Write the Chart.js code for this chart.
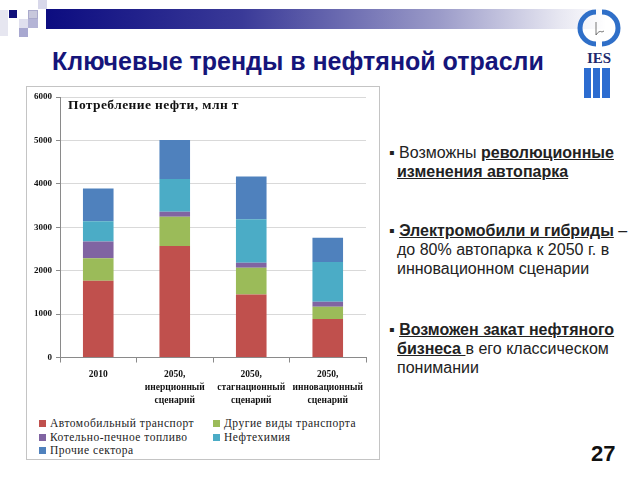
<!DOCTYPE html>
<html><head><meta charset="utf-8">
<script src="https://cdn.jsdelivr.net/npm/chart.js@4/dist/chart.umd.min.js"></script>
<style>
html,body{margin:0;padding:0;background:#fff;width:640px;height:480px;overflow:hidden;position:relative;font-family:"Liberation Sans",Arial,sans-serif;}
.abs{position:absolute;}
#topbar{left:46px;top:9px;width:560px;height:20px;background:linear-gradient(to right,#0c0c80 0%,#3a3a98 35%,#9a9ac8 70%,#e8e8f2 92%,#ffffff 100%);}
.sq{position:absolute;}
#title{left:52px;top:47px;font-weight:bold;font-size:25px;color:#15157a;white-space:nowrap;}
#box{left:26px;top:86px;width:352px;height:372px;border:1px solid #c4c4c4;}
#chartwrap{position:absolute;left:0;top:0;width:352px;height:326px;}
#legend{position:absolute;left:0;top:330px;width:352px;font-family:"Liberation Serif","DejaVu Serif","Times New Roman",serif;font-size:11.5px;letter-spacing:0.5px;color:#222;}
.li{position:absolute;white-space:nowrap;}
.li span.b{display:inline-block;width:7px;height:7px;margin-right:4px;vertical-align:0px;}
#text{left:389px;top:0;width:250px;font-size:16px;color:#222;}
.p{position:absolute;white-space:nowrap;line-height:19px;}
.p b{text-decoration:underline;}
#num{left:591px;top:441px;font-weight:bold;font-size:22px;color:#111;}
</style></head>
<body>
<div class="abs" id="topbar"></div>
<div class="sq" style="left:0;top:10px;width:8px;height:26px;background:#e6e6f0;"></div>
<div class="sq" style="left:9px;top:10px;width:8px;height:8px;background:#10107a;"></div>
<div class="sq" style="left:38px;top:0;width:9px;height:9px;background:#d8d8ea;"></div>
<div class="sq" style="left:28px;top:10px;width:10px;height:9px;background:#c8c8dc;border:1px solid #aaaacc;box-sizing:border-box;"></div>
<div class="sq" style="left:19px;top:19px;width:9px;height:9px;background:#e0e0ee;"></div>
<div class="sq" style="left:19px;top:28px;width:9px;height:9px;background:#a8a8d0;"></div>
<div class="sq" style="left:28px;top:19px;width:10px;height:9px;background:#b4b4d6;"></div>

<svg class="abs" style="left:574px;top:4px;" width="50" height="100" viewBox="0 0 50 100">
  <path d="M22 8 A16 16 0 0 0 22 40" fill="none" stroke="#2f6fc8" stroke-width="5"/>
  <path d="M28 8 A16 16 0 0 1 28 40" fill="none" stroke="#2f6fc8" stroke-width="5"/>
  <path d="M22 18 L22 31 Q25 26 28 28 L30 27" fill="none" stroke="#555" stroke-width="0.8"/>
  <text x="25" y="59" text-anchor="middle" font-family="Liberation Serif,serif" font-weight="bold" font-size="15" fill="#1d2a6e">IES</text>
  <rect x="10" y="64" width="7" height="30" fill="#2c6cd0"/>
  <rect x="19" y="64" width="7" height="30" fill="#2c6cd0"/>
  <rect x="28" y="64" width="8" height="30" fill="#2c6cd0"/>
</svg>

<div class="abs" id="title">Ключевые тренды в нефтяной отрасли</div>

<div class="abs" id="box">
  <div id="chartwrap"><canvas id="c" width="352" height="326"></canvas></div>
  <div id="legend"></div>
</div>

<div class="abs" id="text">
  <div class="p" style="left:0;top:143px;">▪ Возможны <b>революционные</b></div>
  <div class="p" style="left:8px;top:162px;"><b>изменения автопарка</b></div>
  <div class="p" style="left:0;top:221px;">▪ <b>Электромобили и гибриды</b> –</div>
  <div class="p" style="left:8px;top:240px;">до 80% автопарка к 2050 г. в</div>
  <div class="p" style="left:8px;top:259px;">инновационном сценарии</div>
  <div class="p" style="left:0;top:320px;">▪ <b>Возможен закат нефтяного</b></div>
  <div class="p" style="left:8px;top:339px;"><b>бизнеса </b>в его классическом</div>
  <div class="p" style="left:8px;top:358px;">понимании</div>
</div>
<div class="abs" id="num">27</div>

<script>
const categories = [["2010"], ["2050,", "инерционный", "сценарий"], ["2050,", "стагнационный", "сценарий"], ["2050,", "инновационный", "сценарий"]];
const seriesNames = ["Автомобильный транспорт", "Другие виды транспорта", "Котельно-печное топливо", "Нефтехимия", "Прочие сектора"];
const autoTransport = [1770, 2570, 1450, 885];
const otherTransport = [515, 670, 615, 285];
const boilerFuel = [385, 115, 115, 115];
const petrochem = [470, 755, 1005, 915];
const otherSectors = [750, 900, 985, 560];
const yTicks = [0, 1000, 2000, 3000, 4000, 5000, 6000];
const chartTitle = "Потребление нефти, млн т";

const colors = ["#C0504D", "#9BBB59", "#8064A2", "#4BACC6", "#4F81BD"];
const values = [autoTransport, otherTransport, boilerFuel, petrochem, otherSectors];

const datasets = seriesNames.map((n, i) => ({
  label: n, data: values[i], backgroundColor: colors[i], borderWidth: 0,
  barPercentage: 0.4, categoryPercentage: 1.0
}));

const innerTitle = {
  id: 'innerTitle',
  afterDraw(chart) {
    const ctx = chart.ctx, a = chart.chartArea;
    ctx.save();
    ctx.font = 'bold 13.5px "Liberation Serif", serif';
    if ('letterSpacing' in ctx) ctx.letterSpacing = '0.4px';
    ctx.fillStyle = '#111';
    ctx.textBaseline = 'top';
    ctx.fillText(chartTitle, a.left + 8, a.top + 2);
    ctx.restore();
  }
};

new Chart(document.getElementById('c'), {
  type: 'bar',
  data: { labels: categories, datasets },
  options: {
    responsive: false, animation: false,
    layout: { padding: { top: 10, right: 13, left: 3, bottom: 0 } },
    plugins: { legend: { display: false }, tooltip: { enabled: false }, title: { display: false } },
    scales: {
      x: {
        stacked: true,
        grid: { display: true, drawOnChartArea: false, tickLength: 5, color: '#8a8a8a', offset: true },
        border: { color: '#8a8a8a' },
        ticks: { color: '#111', padding: 6, maxRotation: 0, autoSkip: false,
          font: { family: '"Liberation Serif", serif', weight: 'bold', size: 9.5, lineHeight: 1.35 } }
      },
      y: {
        stacked: true, min: 0, max: 6000,
        afterBuildTicks: s => { s.ticks = yTicks.map(v => ({ value: v })); },
        grid: { color: '#d9d9d9', tickLength: 4, tickColor: '#8a8a8a' },
        border: { color: '#8a8a8a' },
        ticks: { color: '#111', padding: 4, callback: v => String(v),
          font: { family: '"Liberation Serif", serif', weight: 'bold', size: 9 } }
      }
    }
  },
  plugins: [innerTitle]
});

const lg = document.getElementById('legend');
const pos = [[12, 0], [186, 0], [12, 13.5], [186, 13.5], [12, 27]];
seriesNames.forEach((n, i) => {
  const d = document.createElement('div');
  d.className = 'li';
  d.style.left = pos[i][0] + 'px';
  d.style.top = pos[i][1] + 'px';
  d.innerHTML = '<span class="b" style="background:' + colors[i] + '"></span>' + n;
  lg.appendChild(d);
});
</script>
</body></html>
